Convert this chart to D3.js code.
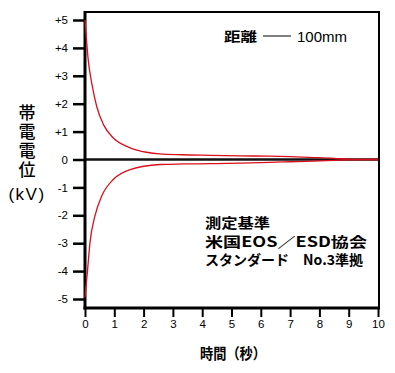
<!DOCTYPE html>
<html>
<head>
<meta charset="utf-8">
<script src="https://cdn.jsdelivr.net/npm/d3@7"></script>
<style>
  body { margin: 0; background: #fff; }
  svg text { font-family: "Liberation Sans", Arial, sans-serif; }
  .jp { font-family: "Noto Sans CJK JP", sans-serif; }
</style>
</head>
<body>
<div id="chart"></div>
<script>
// time (s) and potential (kV)
const timePos = [0, 0.06, 0.11, 0.23, 0.4, 0.63, 0.97, 1.54, 2.1, 2.56, 3.3, 4.3, 5.3, 6.3, 7, 7.8, 8.5, 9, 10]
const valuePos = [5, 4.17, 3.57, 2.74, 1.9, 1.25, 0.77, 0.42, 0.26, 0.2, 0.17, 0.15, 0.13, 0.12, 0.1, 0.07, 0.04, 0.01, 0]
const timeNeg = [0, 0.08, 0.17, 0.34, 0.57, 0.97, 1.54, 2.56, 3.3, 4.3, 5.3, 6.3, 7, 7.8, 8.5, 9, 10]
const valueNeg = [-4.94, -4.05, -2.98, -2.02, -1.31, -0.71, -0.36, -0.18, -0.16, -0.15, -0.13, -0.1, -0.08, -0.06, -0.03, -0.01, 0]
const yTicks = [5, 4, 3, 2, 1, 0, -1, -2, -3, -4, -5]
const yTickLabels = ['+5', '+4', '+3', '+2', '+1', '0', '-1', '-2', '-3', '-4', '-5']
const xTicks = [0, 1, 2, 3, 4, 5, 6, 7, 8, 9, 10]
const yTitle = '帯電電位'
const noteLines = ['測定基準', '米国EOS／ESD協会', 'スタンダード　No.3準拠']
const noteWidths = [65, 162, 158]

const width = 395, height = 373
const plotLeft = 85, plotRight = 379, plotTop = 12, plotBottom = 308

const svg = d3.select('#chart').append('svg')
  .attr('width', width)
  .attr('height', height)

const x = d3.scaleLinear().domain([0, 10]).range([plotLeft, 378])
const y = d3.scaleLinear().domain([-5, 5]).range([299, 20])

// frame
svg.append('rect')
  .attr('x', plotLeft).attr('y', plotTop)
  .attr('width', plotRight - plotLeft).attr('height', plotBottom - plotTop)
  .attr('fill', 'none').attr('stroke', '#000').attr('stroke-width', 2)

// zero line
svg.append('line')
  .attr('x1', plotLeft).attr('x2', plotRight)
  .attr('y1', y(0)).attr('y2', y(0))
  .attr('stroke', '#111').attr('stroke-width', 2.5)

// y axis
const yAxis = d3.axisLeft(y)
  .tickValues(yTicks)
  .tickSize(12)
  .tickPadding(5)
  .tickFormat((d, i) => yTickLabels[i])
const yg = svg.append('g').attr('transform', `translate(${plotLeft},0)`).call(yAxis)
yg.select('.domain').remove()
yg.selectAll('.tick line').attr('stroke', '#000').attr('stroke-width', 2.5)
yg.selectAll('.tick text').attr('font-size', 11.5).attr('fill', '#000')
svg.append('line')
  .attr('x1', plotLeft).attr('x2', plotLeft)
  .attr('y1', plotTop - 1).attr('y2', plotBottom + 1.5)
  .attr('stroke', '#000').attr('stroke-width', 3)

// x axis
const xAxis = d3.axisBottom(x)
  .tickValues(xTicks)
  .tickSize(9)
  .tickPadding(3)
const xg = svg.append('g').attr('transform', `translate(0,${plotBottom})`).call(xAxis)
xg.select('.domain').remove()
xg.selectAll('.tick line').attr('stroke', '#000').attr('stroke-width', 2)
xg.selectAll('.tick text').attr('font-size', 11.5).attr('fill', '#000')
svg.append('line')
  .attr('x1', plotLeft - 1.5).attr('x2', plotRight + 1)
  .attr('y1', plotBottom).attr('y2', plotBottom)
  .attr('stroke', '#000').attr('stroke-width', 3)

// curves
const line = d3.line()
  .x(d => x(d[0]))
  .y(d => y(d[1]))
  .curve(d3.curveMonotoneX)

svg.append('path')
  .datum(d3.zip(timePos, valuePos))
  .attr('d', line)
  .attr('fill', 'none').attr('stroke', '#d8101c').attr('stroke-width', 1.3)
svg.append('path')
  .datum(d3.zip(timeNeg, valueNeg))
  .attr('d', line)
  .attr('fill', 'none').attr('stroke', '#d8101c').attr('stroke-width', 1.3)

// y title, written vertically
svg.append('text')
  .attr('class', 'jp')
  .attr('x', 27).attr('y', 104)
  .attr('font-size', 17)
  .attr('font-weight', 500)
  .style('writing-mode', 'vertical-rl')
  .style('text-orientation', 'upright')
  .attr('letter-spacing', 2)
  .text(yTitle)
svg.append('text')
  .attr('x', 27).attr('y', 200)
  .attr('text-anchor', 'middle')
  .attr('font-size', 17)
  .attr('letter-spacing', 1.5)
  .text('(kV)')

// x title
svg.append('text')
  .attr('class', 'jp')
  .attr('x', 200).attr('y', 359)
  .attr('font-size', 15)
  .attr('font-weight', 'bold')
  .attr('textLength', 66)
  .attr('lengthAdjust', 'spacingAndGlyphs')
  .text('時間（秒）')

// legend
svg.append('text')
  .attr('class', 'jp')
  .attr('x', 224).attr('y', 41)
  .attr('font-size', 13)
  .attr('font-weight', 'bold')
  .attr('textLength', 33)
  .attr('lengthAdjust', 'spacingAndGlyphs')
  .text('距離')
svg.append('line')
  .attr('x1', 263).attr('x2', 291)
  .attr('y1', 36).attr('y2', 36)
  .attr('stroke', '#000').attr('stroke-width', 1)
svg.append('text')
  .attr('x', 297).attr('y', 42)
  .attr('font-size', 14.5)
  .attr('textLength', 50)
  .attr('lengthAdjust', 'spacingAndGlyphs')
  .text('100mm')

// note
svg.selectAll('.note')
  .data(noteLines)
  .enter().append('text')
  .attr('class', 'jp')
  .attr('x', 205)
  .attr('y', (d, i) => 228 + i * 18.5)
  .attr('font-size', 14)
  .attr('font-weight', 'bold')
  .attr('textLength', (d, i) => noteWidths[i])
  .attr('lengthAdjust', 'spacingAndGlyphs')
  .text(d => d)
</script>
</body>
</html>
